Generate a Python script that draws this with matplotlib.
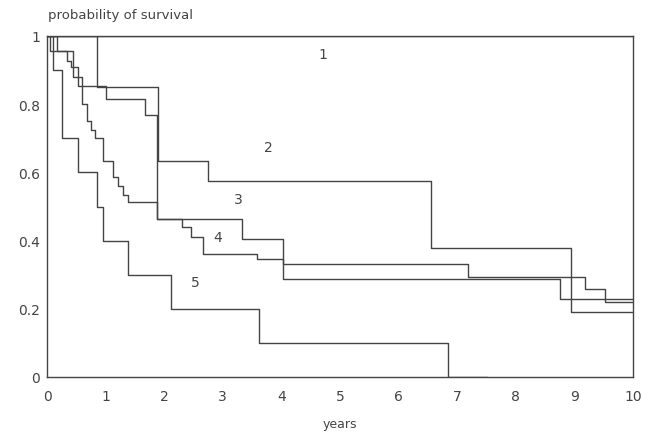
import matplotlib
matplotlib.use("Agg")
import matplotlib.pyplot as plt

# Kaplan-Meier style step curves (time in years, survival probability)
t1 = [0.0, 10.0]
s1 = [1.0, 1.0]

t2 = [0.0, 0.85, 1.90, 2.74, 6.56, 8.95, 10.0]
s2 = [1.0, 0.85, 0.633, 0.575, 0.378, 0.19, 0.19]

t3 = [0.0, 0.05, 0.45, 0.60, 0.68, 0.75, 0.82, 0.96, 1.13, 1.22, 1.30, 1.38,
      1.88, 3.33, 4.03, 8.75, 10.0]
s3 = [1.0, 0.956, 0.88, 0.80, 0.75, 0.725, 0.70, 0.633, 0.587, 0.56, 0.535,
      0.513, 0.463, 0.405, 0.287, 0.229, 0.229]

t4 = [0.0, 0.17, 0.34, 0.41, 0.53, 1.00, 1.68, 1.88, 2.30, 2.45, 2.67, 3.59,
      4.03, 7.18, 9.18, 9.52, 10.0]
s4 = [1.0, 0.956, 0.927, 0.909, 0.853, 0.815, 0.768, 0.463, 0.44, 0.41, 0.36,
      0.346, 0.331, 0.293, 0.258, 0.22, 0.22]

t5 = [0.0, 0.10, 0.26, 0.53, 0.85, 0.96, 1.38, 2.12, 3.61, 6.84, 7.5]
s5 = [1.0, 0.90, 0.70, 0.60, 0.50, 0.40, 0.30, 0.20, 0.10, 0.0, 0.0]

curve_labels = ["1", "2", "3", "4", "5"]
label_x = [4.70, 3.78, 3.26, 2.91, 2.53]
label_y = [0.947, 0.674, 0.522, 0.41, 0.28]

xticks = [0, 1, 2, 3, 4, 5, 6, 7, 8, 9, 10]
yticks = [0, 0.2, 0.4, 0.6, 0.8, 1]
yticklabels = ["0", "0.2", "0.4", "0.6", "0.8", "1"]

fig = plt.figure(figsize=(6.57, 4.35), dpi=100)
ax = fig.add_axes([47 / 657, 1 - 378 / 435, (633 - 47) / 657, (378 - 37) / 435])

col = "#444444"
for t, s in [(t1, s1), (t2, s2), (t3, s3), (t4, s4), (t5, s5)]:
    ax.step(t, s, where="post", color=col, lw=1.0)

for lab, x, y in zip(curve_labels, label_x, label_y):
    ax.text(x, y, lab, fontsize=10, color=col, ha="center", va="center")

ax.set_xlim(0, 10)
ax.set_ylim(0, 1)
ax.set_xticks(xticks)
ax.set_xticklabels([str(v) for v in xticks])
ax.set_yticks(yticks)
ax.set_yticklabels(yticklabels)
ax.tick_params(length=0, labelsize=10, colors=col)
ax.tick_params(axis="y", pad=5)
ax.tick_params(axis="x", pad=9)
for sp in ax.spines.values():
    sp.set_color(col)
    sp.set_linewidth(1.0)

ax.set_xlabel("years", fontsize=9, color=col, labelpad=10)
fig.text(48 / 657, 1 - 15 / 435, "probability of survival", fontsize=9.5,
         color=col, ha="left", va="center")

fig.savefig("out.png", dpi=100)
